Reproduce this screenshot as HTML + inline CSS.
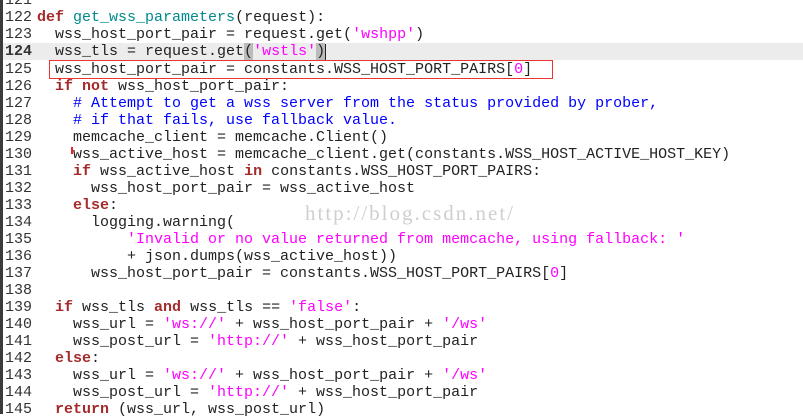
<!DOCTYPE html>
<html><head><meta charset="utf-8"><style>
body{margin:0;width:803px;height:414px;overflow:hidden;background:#fff;position:relative;font-family:"Liberation Mono",monospace;font-size:15px;}
.l{position:absolute;left:0;height:17px;line-height:17px;white-space:pre;width:803px;color:#222}
.n{position:absolute;left:4px;width:28px;text-align:right;color:#333}
.c{position:absolute;left:37px}
.k{color:#a52a2a;font-weight:bold}
.f{color:#008a8c}
.s{color:#ff00ff}
.m{color:#0000ff}
.hl{background:#ececec}
#g{position:absolute;left:0;top:0;width:3px;height:414px;background:#3c3b37}
</style></head><body>
<div class="l" style="top:-8px"><span class="n">121</span></div>
<div class="l" style="top:9px"><span class="n">122</span><span class="c"><span class="k">def</span> <span class="f">get_wss_parameters</span>(request):</span></div>
<div class="l" style="top:26px"><span class="n">123</span><span class="c">  wss_host_port_pair = request.get(<span class="s">'wshpp'</span>)</span></div>
<div class="l hl" style="top:43px"><span class="n" style="font-weight:bold">124</span><span class="c">  wss_tls = request.get<span style="background:#bbb">(</span><span class="s">'wstls'</span><span style="background:#bbb">)</span></span></div>
<div style="position:absolute;left:325px;top:44px;width:1px;height:16px;background:#222"></div>
<div class="l" style="top:61px"><span class="n">125</span><span class="c">  wss_host_port_pair = constants.WSS_HOST_PORT_PAIRS[<span class="s">0</span>]</span></div>
<div style="position:absolute;left:49px;top:60px;width:502px;height:17px;border:1px solid #e33"></div>
<div class="l" style="top:78px"><span class="n">126</span><span class="c">  <span class="k">if not</span> wss_host_port_pair:</span></div>
<div class="l" style="top:95px"><span class="n">127</span><span class="c m">    # Attempt to get a wss server from the status provided by prober,</span></div>
<div class="l" style="top:112px"><span class="n">128</span><span class="c m">    # if that fails, use fallback value.</span></div>
<div class="l" style="top:129px"><span class="n">129</span><span class="c">    memcache_client = memcache.Client()</span></div>
<div class="l" style="top:146px"><span class="n">130</span><span class="c">    wss_active_host = memcache_client.get(constants.WSS_HOST_ACTIVE_HOST_KEY)</span></div>
<div style="position:absolute;left:71px;top:147px;width:2px;height:7px;background:#e22"></div>
<div class="l" style="top:163px"><span class="n">131</span><span class="c">    <span class="k">if</span> wss_active_host <span class="k">in</span> constants.WSS_HOST_PORT_PAIRS:</span></div>
<div class="l" style="top:180px"><span class="n">132</span><span class="c">      wss_host_port_pair = wss_active_host</span></div>
<div class="l" style="top:197px"><span class="n">133</span><span class="c">    <span class="k">else</span>:</span></div>
<div class="l" style="top:214px"><span class="n">134</span><span class="c">      logging.warning(</span></div>
<div style="position:absolute;left:305px;top:201px;font-family:'Liberation Serif',serif;font-size:21px;letter-spacing:2px;color:#cfcfcf;white-space:pre">http://blog.csdn.net/</div>
<div class="l" style="top:231px"><span class="n">135</span><span class="c">          <span class="s">'Invalid or no value returned from memcache, using fallback: '</span></span></div>
<div class="l" style="top:248px"><span class="n">136</span><span class="c">          + json.dumps(wss_active_host))</span></div>
<div class="l" style="top:265px"><span class="n">137</span><span class="c">      wss_host_port_pair = constants.WSS_HOST_PORT_PAIRS[<span class="s">0</span>]</span></div>
<div class="l" style="top:282px"><span class="n">138</span></div>
<div class="l" style="top:299px"><span class="n">139</span><span class="c">  <span class="k">if</span> wss_tls <span class="k">and</span> wss_tls == <span class="s">'false'</span>:</span></div>
<div class="l" style="top:316px"><span class="n">140</span><span class="c">    wss_url = <span class="s">'ws://'</span> + wss_host_port_pair + <span class="s">'/ws'</span></span></div>
<div class="l" style="top:333px"><span class="n">141</span><span class="c">    wss_post_url = <span class="s">'http://'</span> + wss_host_port_pair</span></div>
<div class="l" style="top:350px"><span class="n">142</span><span class="c">  <span class="k">else</span>:</span></div>
<div class="l" style="top:367px"><span class="n">143</span><span class="c">    wss_url = <span class="s">'ws://'</span> + wss_host_port_pair + <span class="s">'/ws'</span></span></div>
<div class="l" style="top:384px"><span class="n">144</span><span class="c">    wss_post_url = <span class="s">'http://'</span> + wss_host_port_pair</span></div>
<div class="l" style="top:401px"><span class="n">145</span><span class="c">  <span class="k">return</span> (wss_url, wss_post_url)</span></div>
<div id="g"></div>
</body></html>
